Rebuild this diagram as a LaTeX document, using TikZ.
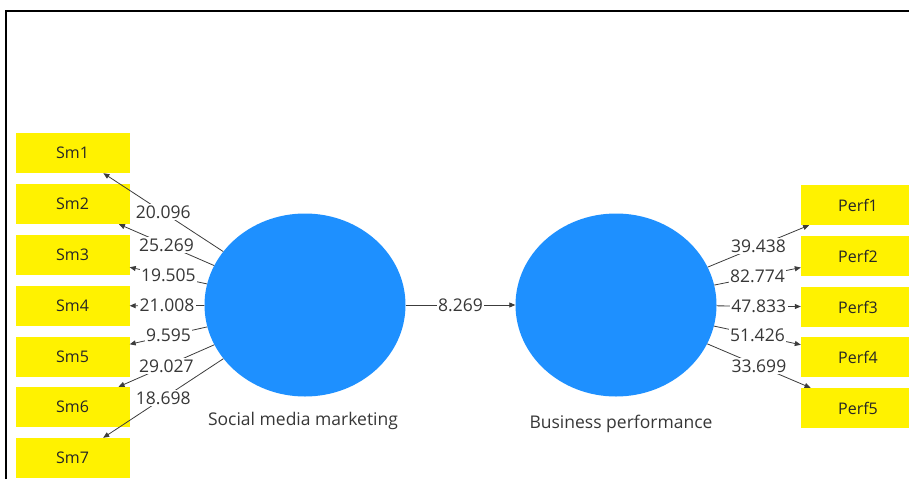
\documentclass[tikz,border=0pt]{standalone}
\usepackage{fontspec}
\setmainfont{Open Sans}
\usetikzlibrary{shapes.geometric,arrows.meta}

\definecolor{plsblue}{RGB}{30,144,255}
\definecolor{linegray}{RGB}{60,60,60}
\definecolor{textgray}{RGB}{55,55,55}

\tikzset{
  indicator/.style={fill=yellow, minimum width=114pt, minimum height=40pt,
    inner sep=0pt, text=black!85, font=\fontsize{16}{19}\selectfont},
  construct/.style={ellipse, fill=plsblue, minimum width=201pt,
    minimum height=183pt, inner sep=0pt},
  loading/.style={-{Triangle[length=6pt,width=5pt]}, draw=linegray, line width=0.8pt},
  weight/.style={fill=white, inner sep=1.5pt, text=textgray,
    font=\fontsize{17.5}{20}\selectfont},
  caption/.style={text=textgray, font=\fontsize{17.5}{20}\selectfont},
}

\begin{document}
\begin{tikzpicture}[x=1pt,y=-1pt]
  \useasboundingbox (0,0) rectangle (909,479);
  \draw[line width=2pt] (6,479) -- (6,11) -- (909,11);

  % the two constructs
  \node[construct] (smm) at (305,305) {};
  \node[construct] (bp) at (616,305) {};
  \node[caption] (smmlabel) at (303,421) {Social media marketing};
  \node[caption] (bplabel) at (621,424) {Business performance};

  % indicators of social media marketing
  \node[indicator] (sm1) at (72.5,153) {Sm1};
  \node[indicator] (sm2) at (72.5,204) {Sm2};
  \node[indicator] (sm3) at (72.5,255) {Sm3};
  \node[indicator] (sm4) at (72.5,306) {Sm4};
  \node[indicator] (sm5) at (72.5,357) {Sm5};
  \node[indicator] (sm6) at (72.5,407) {Sm6};
  \node[indicator] (sm7) at (72.5,458) {Sm7};

  % indicators of business performance
  \node[indicator] (perf1) at (858,205) {Perf1};
  \node[indicator] (perf2) at (858,256) {Perf2};
  \node[indicator] (perf3) at (858,307) {Perf3};
  \node[indicator] (perf4) at (858,357) {Perf4};
  \node[indicator] (perf5) at (858,408) {Perf5};

  % outer loadings (t values)
  \draw[loading] (smm) -- node[weight] {20.096} (sm1);
  \draw[loading] (smm) -- node[weight] {25.269} (sm2);
  \draw[loading] (smm) -- node[weight] {19.505} (sm3);
  \draw[loading] (smm) -- node[weight] {21.008} (sm4);
  \draw[loading] (smm) -- node[weight] {9.595} (sm5);
  \draw[loading] (smm) -- node[weight] {29.027} (sm6);
  \draw[loading] (smm) -- node[weight] {18.698} (sm7);

  \draw[loading] (bp) -- node[weight] {39.438} (perf1);
  \draw[loading] (bp) -- node[weight] {82.774} (perf2);
  \draw[loading] (bp) -- node[weight] {47.833} (perf3);
  \draw[loading] (bp) -- node[weight] {51.426} (perf4);
  \draw[loading] (bp) -- node[weight] {33.699} (perf5);

  % path coefficient
  \draw[loading] (smm) -- node[weight] {8.269} (bp);
\end{tikzpicture}
\end{document}
